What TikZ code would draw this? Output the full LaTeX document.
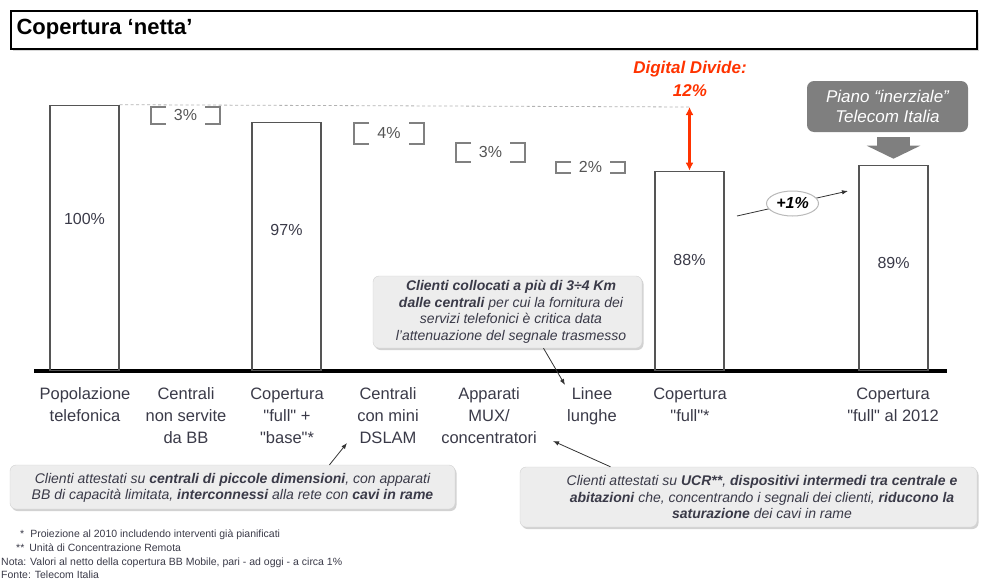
\documentclass[tikz,border=0pt]{standalone}
\usepackage{fontspec}
\setmainfont{Liberation Sans}[Ligatures=TeXOff]
\usetikzlibrary{arrows.meta,shapes.geometric,shadows}
\definecolor{txtgray}{HTML}{3A3A48}
\definecolor{bargray}{HTML}{555555}
\definecolor{ddred}{HTML}{FF3300}
\definecolor{notefill}{HTML}{EDEDED}
\definecolor{pianogray}{HTML}{7F7F7F}
\tikzset{
  bar/.style={draw=bargray,line width=1.3pt,minimum width=69pt,anchor=south,inner sep=0pt},
  val/.style={text=txtgray,font=\fontsize{16}{19}\selectfont},
  cat/.style={text=txtgray,align=center,anchor=north,font=\fontsize{16.5}{22}\selectfont},
  brk/.style={draw=gray,line width=1.4pt},
  note/.style={draw=gray!35,fill=notefill,rounded corners=6pt,
    drop shadow={shadow xshift=1.5pt,shadow yshift=-2pt,fill=gray!70}},
  notetext/.style={align=center,text=txtgray,font=\fontsize{14}{16.5}\selectfont\itshape},
  pointer/.style={-{Latex[length=6pt,width=4.5pt]},line width=0.8pt,draw=black!80},
  foot/.style={anchor=west,inner sep=0pt,text=txtgray,font=\fontsize{10.5}{12}\selectfont}
}
\begin{document}
\begin{tikzpicture}[x=1pt,y=-1pt]
  \useasboundingbox (0,0) rectangle (982,584);

  \node[draw,fill=white,line width=2.4pt,minimum width=966pt,minimum height=38pt,anchor=north west,
    drop shadow={shadow xshift=1.5pt,shadow yshift=-1.5pt,fill=gray!60}] (titlebox) at (10,10) {};
  \node[anchor=west,font=\fontsize{22}{26}\selectfont\bfseries] (title) at (13,29.5) {Copertura ‘netta’};

  \draw[line width=4pt] (34,371) -- (947,371);
  \foreach \x/\top/\v/\ly [count=\i] in {84.5/106/100/219,286.5/123/97/230,689.5/172/88/260,893.5/166/89/263} {
    \node[bar,minimum height={371-\top}] (b\i) at (\x,371) {};
    \node[val] (v\i) at (\x,\ly) {\v\%};
  }

  \coordinate (ddtop) at (689.5,107);
  \draw[gray!60,line width=0.8pt,dash pattern=on 3pt off 2.5pt] (b1.north east) -- (ddtop);
  \draw[ddred,line width=2.5pt,{Latex[length=8pt,width=8pt]}-{Latex[length=8pt,width=8pt]}] (ddtop) -- (b3.north);
  \node[align=center,text=ddred,font=\fontsize{17}{23}\selectfont\bfseries\itshape] (dd) at (690,79) {Digital Divide:\\12\%};

  \foreach \a/\c/\t/\b/\v [count=\i] in {151/220/107/124/3,354/424/123/144/4,456/525/143/162/3,556/625/162/173/2} {
    \draw[brk] (\a+15,\t) -- (\a,\t) -- (\a,\b) -- (\a+15,\b);
    \draw[brk] (\c-15,\t) -- (\c,\t) -- (\c,\b) -- (\c-15,\b);
    \node[val,text=bargray] (gap\i) at ({(\a+\c)/2},{(\t+\b)/2-1}) {\v\%};
  }

  \node[fill=pianogray,rounded corners=7pt,minimum width=161pt,minimum height=51pt,text=white,
    align=center,font=\fontsize{17}{20}\selectfont\itshape] (piano) at (887.5,106.5) {Piano “inerziale”\\Telecom Italia};
  \draw[pianogray,line width=33pt,-{Triangle[width=53pt,length=13pt]}]
    ([yshift=-5pt]b4.north |- piano.south) -- ([yshift=6pt]b4.north);

  \coordinate (p1) at (737,216);
  \coordinate (p2) at (848,191);
  \draw[pointer] (p1) -- node[ellipse,draw=gray!55,line width=1pt,fill=white,minimum width=52pt,minimum height=25pt,
    inner sep=1pt,font=\fontsize{16}{19}\selectfont\bfseries\itshape] (plus) {+1\%} (p2);

  \foreach \x/\t [count=\i] in {85/{Popolazione\\telefonica},186/{Centrali\\non servite\\da BB},
      287/{Copertura\\"full" +\\"base"*},388/{Centrali\\con mini\\DSLAM},489/{Apparati\\MUX/\\concentratori},
      592/{Linee\\lunghe},690/{Copertura\\"full"*},893/{Copertura\\"full" al 2012}} {
    \node[cat] (lab\i) at (\x,384) {\t};
  }

  \node[note,minimum width=269pt,minimum height=72pt] (noteA) at (507.5,312) {};
  \node[notetext] (noteAtxt) at (511,312) {\textbf{Clienti collocati a più di 3÷4 Km}\\
    \textbf{dalle centrali} per cui la fornitura dei\\servizi telefonici è critica data\\
    l’attenuazione del segnale trasmesso};
  \coordinate (tipA) at (565,385);
  \draw[pointer] ([xshift=36pt]noteA.south) -- (tipA);

  \node[note,minimum width=445pt,minimum height=44pt] (noteB) at (232.5,487) {};
  \node[notetext] (noteBtxt) at (232.5,488) {Clienti attestati su \textbf{centrali di piccole dimensioni}, con apparati\\
    BB di capacità limitata, \textbf{interconnessi} alla rete con \textbf{cavi in rame}};
  \coordinate (tipB) at (347,443);
  \draw[pointer] ([xshift=97pt]noteB.north) -- (tipB);

  \node[note,minimum width=457pt,minimum height=60pt] (noteC) at (748.5,497) {};
  \node[notetext] (noteCtxt) at (762,497) {Clienti attestati su \textbf{UCR**}, \textbf{dispositivi intermedi tra centrale e}\\
    \textbf{abitazioni} che, concentrando i segnali dei clienti, \textbf{riducono la}\\
    \textbf{saturazione} dei cavi in rame};
  \coordinate (tipC) at (553,441);
  \draw[pointer] ([xshift=-138pt]noteC.north) -- (tipC);

  \node[foot] (fn1) at (20,535) {*\hspace{6pt}Proiezione al 2010 includendo interventi già pianificati};
  \node[foot] (fn2) at (16,548) {**\hspace{5pt}Unità di Concentrazione Remota};
  \node[foot] (nota) at (1,563) {Nota: Valori al netto della copertura BB Mobile, pari - ad oggi - a circa 1\%};
  \node[foot] (fonte) at (1,575) {Fonte: Telecom Italia};
\end{tikzpicture}
\end{document}
